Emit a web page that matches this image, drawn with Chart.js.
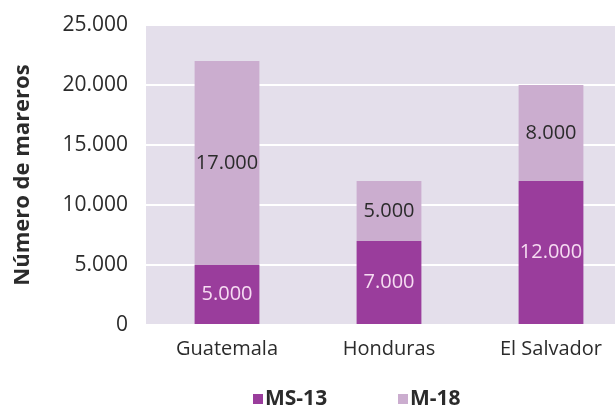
<!DOCTYPE html>
<html>
<head>
<meta charset="utf-8">
<script src="https://cdn.jsdelivr.net/npm/chart.js@4"></script>
<style>
  html, body { margin: 0; padding: 0; background: #fff; overflow: hidden; }
  #wrap { position: relative; width: 640px; height: 407px; }
</style>
</head>
<body>
<div id="wrap"><canvas id="chart"></canvas></div>
<script>
// ─── Data ─────────────────────────────────────────────────────────────────────
const COUNTRIES = ['Guatemala', 'Honduras', 'El Salvador'];
const MS13      = [5000, 7000, 12000];
const M18       = [17000, 5000, 8000];
const SERIES    = ['MS-13', 'M-18'];

// ─── Theme ────────────────────────────────────────────────────────────────────
const FONT      = "'Open Sans', 'Noto Sans', sans-serif";
const DARK      = '#9a3d9c';
const LIGHT     = '#cbadcf';
const PLOT_BG   = '#e4dfeb';
const TEXT      = '#2b2b2b';

const fmt = v => v.toLocaleString('de-DE');

// fill the plot area lavender
const plotBg = {
  id: 'plotBg',
  beforeDraw(chart) {
    const { ctx, chartArea: a } = chart;
    ctx.save();
    ctx.fillStyle = PLOT_BG;
    ctx.fillRect(a.left, a.top, a.right - a.left, a.bottom - a.top);
    ctx.restore();
  },
};

// value labels in the middle of each segment
const segLabels = {
  id: 'segLabels',
  afterDatasetsDraw(chart) {
    const ctx = chart.ctx;
    ctx.save();
    ctx.font = `20px ${FONT}`;
    ctx.textAlign = 'center';
    ctx.textBaseline = 'middle';
    chart.data.datasets.forEach((ds, i) => {
      chart.getDatasetMeta(i).data.forEach((bar, j) => {
        ctx.fillStyle = i === 0 ? '#f6dcf2' : TEXT;
        ctx.fillText(fmt(ds.data[j]), bar.x, (bar.y + bar.base) / 2);
      });
    });
    ctx.restore();
  },
};

// legend along the bottom edge, square swatches + bold names
const legendRow = {
  id: 'legendRow',
  afterDraw(chart) {
    const ctx = chart.ctx;
    const xs = [253, 398];
    const y = 398;
    ctx.save();
    ctx.font = `bold 21px ${FONT}`;
    ctx.textBaseline = 'middle';
    ctx.textAlign = 'left';
    chart.data.datasets.forEach((ds, i) => {
      ctx.fillStyle = ds.backgroundColor;
      ctx.fillRect(xs[i], y - 4, 10, 10);
      ctx.fillStyle = TEXT;
      ctx.fillText(ds.label, xs[i] + 12, y + 1);
    });
    ctx.restore();
  },
};

new Chart(document.getElementById('chart'), {
  type: 'bar',
  data: {
    labels: COUNTRIES,
    datasets: [
      { label: SERIES[0], data: MS13, backgroundColor: DARK,  borderWidth: 0 },
      { label: SERIES[1], data: M18,  backgroundColor: LIGHT, borderWidth: 0 },
    ],
  },
  options: {
    responsive: true,
    maintainAspectRatio: false,
    animation: false,
    layout: { padding: { top: 25, right: 8, left: 0, bottom: 0 } },
    datasets: { bar: { barPercentage: 0.4, categoryPercentage: 1 } },
    plugins: {
      legend: { display: false },
      tooltip: { enabled: false },
    },
    scales: {
      x: {
        stacked: true,
        grid: { display: false, drawTicks: false },
        border: { display: false },
        ticks: { color: TEXT, font: { size: 20, family: FONT }, padding: 12 },
        afterFit(s) { s.height = 82; },
      },
      y: {
        stacked: true,
        min: 0,
        max: 25000,
        grid: { color: '#ffffff', lineWidth: 2, drawTicks: false },
        border: { display: false },
        ticks: {
          stepSize: 5000,
          color: TEXT,
          font: { size: 21, family: FONT },
          padding: 18,
          callback: v => fmt(v),
        },
        title: {
          display: true,
          text: 'Número de mareros',
          color: TEXT,
          font: { size: 22, weight: 'bold', family: FONT },
          padding: { top: 10, bottom: 0 },
        },
        afterFit(s) {
          s.width = 146;
          s.paddingTop = 0;     // no extra room for the top tick label
          s.paddingBottom = 0;
        },
      },
    },
  },
  plugins: [plotBg, segLabels, legendRow],
});
</script>
</body>
</html>
